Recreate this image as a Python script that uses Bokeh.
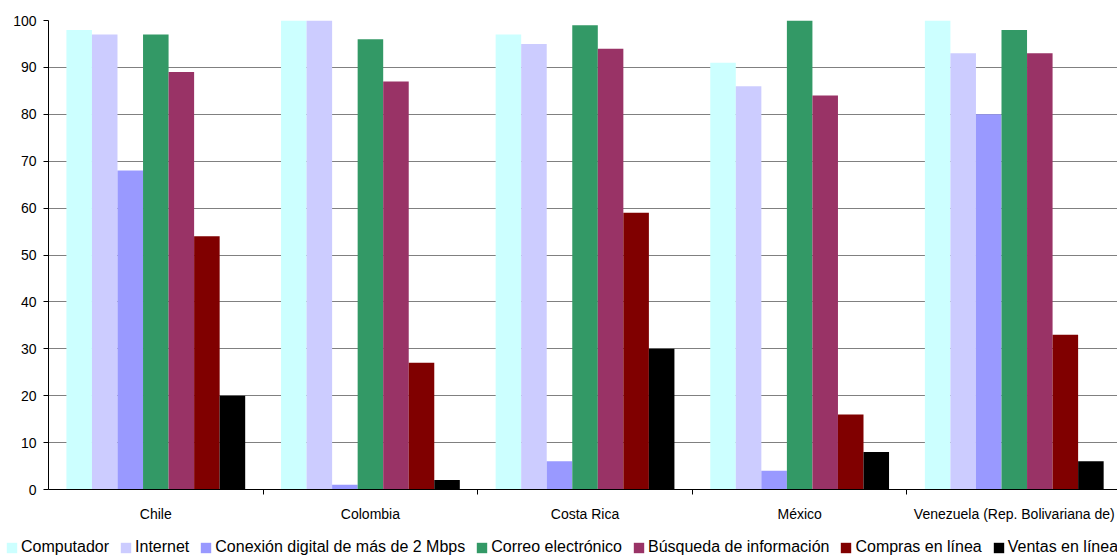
from bokeh.plotting import figure
from bokeh.layouts import column
from bokeh.models import ColumnDataSource, FixedTicker, Legend, LegendItem, Range1d
from bokeh.transform import dodge
from bokeh.embed import file_html
from bokeh.resources import INLINE

countries = ["Chile", "Colombia", "Costa Rica", "México", "Venezuela (Rep. Bolivariana de)"]
series_names = ["Computador", "Internet", "Conexión digital de más de 2 Mbps",
                "Correo electrónico", "Búsqueda de información", "Compras en línea", "Ventas en línea"]
computador = [98, 100, 97, 91, 100]
internet = [97, 100, 95, 86, 93]
conexion = [68, 1, 6, 4, 80]
correo = [97, 96, 99, 100, 98]
busqueda = [89, 87, 94, 84, 93]
compras = [54, 27, 59, 16, 33]
ventas = [20, 2, 30, 8, 6]
colors = ["#CCFFFF", "#CCCCFF", "#9999FF", "#339966", "#993366", "#800000", "#000000"]
y_ticks = list(range(0, 101, 10))

FONT = "Liberation Sans"
series_values = [computador, internet, conexion, correo, busqueda, compras, ventas]
centers = [i + 0.5 for i in range(len(countries))]
data = {"x": centers}
for k, vals in enumerate(series_values):
    data["s%d" % k] = vals
source = ColumnDataSource(data)

p = figure(width=1117, height=530, output_backend="svg", toolbar_location=None,
           x_range=Range1d(0, 4.981), y_range=Range1d(0, 100),
           min_border_left=48, min_border_right=0, min_border_top=20, min_border_bottom=41)
p.outline_line_color = None
p.background_fill_color = "white"
p.border_fill_color = "white"

w = 0.119
for k in range(7):
    p.vbar(x=dodge("x", (k - 3) * w, range=p.x_range), top="s%d" % k, width=w,
           bottom=0, source=source, fill_color=colors[k], line_color=None)

p.xgrid.grid_line_color = None
p.ygrid.grid_line_color = "#808080"
p.ygrid.grid_line_width = 1
p.ygrid.ticker = FixedTicker(ticks=y_ticks)

p.yaxis.ticker = FixedTicker(ticks=y_ticks)
p.yaxis.axis_line_color = "black"
p.yaxis.major_tick_line_color = "black"
p.yaxis.major_tick_out = 5
p.yaxis.major_tick_in = 0
p.yaxis.minor_tick_line_color = None
p.yaxis.major_label_standoff = 7
p.yaxis.major_label_text_font = FONT
p.yaxis.major_label_text_font_size = "14px"
p.yaxis.major_label_text_color = "black"

p.xaxis.ticker = FixedTicker(ticks=centers, minor_ticks=[1, 2, 3, 4])
p.xaxis.major_label_overrides = {c: name for c, name in zip(centers, countries)}
p.xaxis.axis_line_color = "black"
p.xaxis.major_tick_line_color = None
p.xaxis.major_tick_out = 5
p.xaxis.major_tick_in = 0
p.xaxis.minor_tick_line_color = "black"
p.xaxis.minor_tick_out = 5
p.xaxis.minor_tick_in = 0
p.xaxis.major_label_standoff = 11
p.xaxis.major_label_text_font = FONT
p.xaxis.major_label_text_font_size = "14px"
p.xaxis.major_label_text_color = "black"

# legend strip below the chart
lg = figure(width=1117, height=26, output_backend="svg", toolbar_location=None,
            x_axis_location=None, y_axis_location=None,
            x_range=Range1d(0, 1), y_range=Range1d(0, 1),
            min_border_left=0, min_border_right=0, min_border_top=0, min_border_bottom=0)
lg.outline_line_color = None
lg.xgrid.grid_line_color = None
lg.ygrid.grid_line_color = None
lg.background_fill_color = "white"
lg.border_fill_color = "white"
if "frame_align" in lg.properties():
    lg.frame_align = False
    p.frame_align = False
nan = float("nan")
swatches = []
for k in range(7):
    swatches.append(lg.vbar(x=[nan], top=[nan], width=0.1, fill_color=colors[k], line_color=None))

items = [LegendItem(label=series_names[k], renderers=[swatches[k]]) for k in range(7)]
legend = Legend(items=items, orientation="horizontal", location=(5, 0),
                padding=0, margin=0, spacing=10, glyph_width=13, glyph_height=13,
                label_standoff=3, label_text_font=FONT, label_text_font_size="16px",
                label_text_color="black", border_line_color=None,
                background_fill_alpha=0)
lg.add_layout(legend, "center")

layout = column(p, lg, spacing=0)
open("out.html", "w").write(file_html(layout, INLINE))
